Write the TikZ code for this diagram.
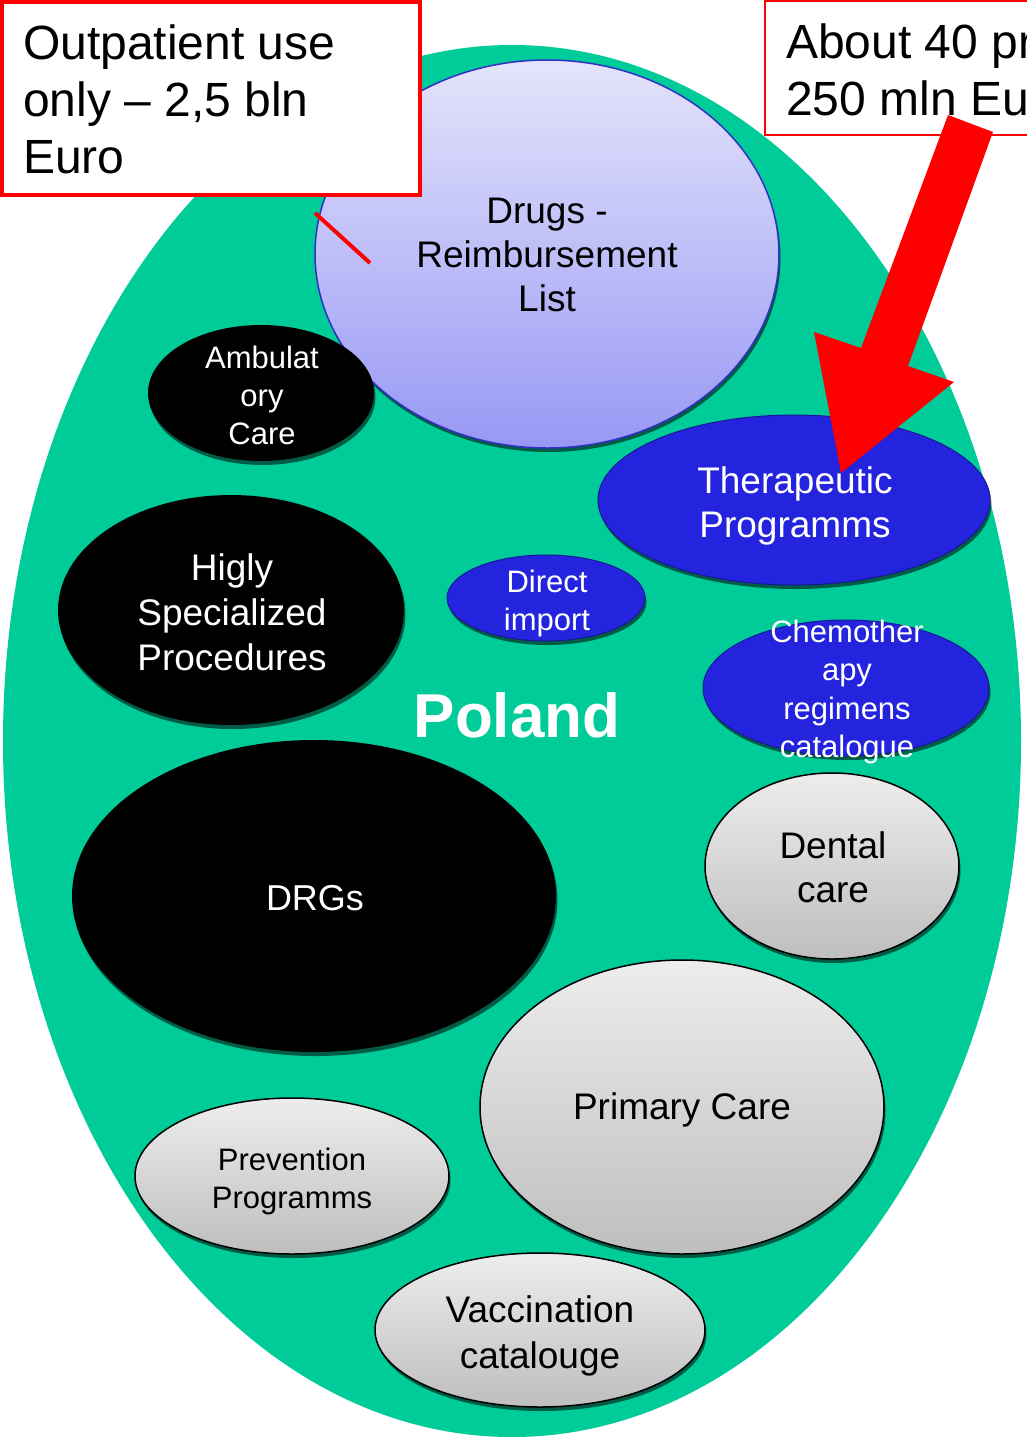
\documentclass[tikz,border=0pt]{standalone}
\usepackage{fontspec}
\setmainfont{Liberation Sans}
\usetikzlibrary{shapes.geometric,shadows}
\definecolor{polgreen}{RGB}{0,204,153}
\definecolor{lavtop}{RGB}{228,228,251}
\definecolor{lavbot}{RGB}{152,152,245}
\definecolor{lavline}{RGB}{48,48,200}
\definecolor{progblue}{RGB}{36,36,222}
\definecolor{progline}{RGB}{24,24,150}
\definecolor{graytop}{RGB}{237,237,237}
\definecolor{graybot}{RGB}{190,190,190}
\definecolor{boxred}{RGB}{255,0,0}
\tikzset{
  ell/.style={ellipse, inner sep=0pt, outer sep=0pt},
  shad/.style={drop shadow={shadow xshift=1.5pt, shadow yshift=-4pt, opacity=0.55, fill=black}},
  blackell/.style={ell, fill=black, shad},
  blueell/.style={ell, fill=progblue, draw=progline, line width=1pt, shad},
  grayell/.style={ell, top color=graytop, bottom color=graybot, draw=black, line width=1.5pt, shad},
  drugell/.style={ell, top color=lavtop, bottom color=lavbot, draw=lavline, line width=1.5pt, shad},
  wtxt/.style={text=white, align=center, inner sep=0pt},
  btxt/.style={text=black, align=center, inner sep=0pt},
  redbox/.style={draw=boxred, fill=white},
}
\newcommand{\fs}[2]{\fontsize{#1}{#2}\selectfont}
\begin{document}
\begin{tikzpicture}[x=1pt,y=-1pt]
\useasboundingbox (0,0) rectangle (1027,1440);
\clip (0,0) rectangle (1027,1440);
\fill[white] (0,0) rectangle (1027,1440);
% country
\node[ell, fill=polgreen, minimum width=1018pt, minimum height=1392pt] (poland) at (512,741) {};
% Drugs
\node[drugell, minimum width=464pt, minimum height=388pt] (drugs) at (547,254) {};
\node[btxt, font=\fs{37}{44}] (drugsT) at (547,255) {Drugs -\\Reimbursement\\List};
% Ambulatory
\node[blackell, minimum width=226pt, minimum height=136pt] (amb) at (261,393) {};
\node[wtxt, font=\fs{31}{38}] (ambT) at (262,395) {Ambulat\\ory\\Care};
% Highly specialized
\node[blackell, minimum width=346pt, minimum height=230pt] (hsp) at (231,610) {};
\node[wtxt, font=\fs{37}{45}] (hspT) at (232,612) {Higly\\Specialized\\Procedures};
% Therapeutic
\node[blueell, minimum width=392pt, minimum height=170pt] (tp) at (794,500) {};
\node[wtxt, font=\fs{37}{44}] (tpT) at (795,506) {Therapeutic\\Programms};
% Direct import
\node[blueell, minimum width=198pt, minimum height=86pt] (di) at (546,598) {};
\node[wtxt, font=\fs{31}{38}] (diT) at (547,603) {Direct\\import};
% Chemotherapy
\node[blueell, minimum width=286pt, minimum height=136pt] (chemo) at (846,688) {};
\node[wtxt, font=\fs{31}{38.5}] (chemoT) at (847,692) {Chemother\\apy\\regimens\\catalogue};
% Poland label
\node[text=white, inner sep=0pt, font=\fs{62}{70}\bfseries] (polT) at (517,715) {Poland};
% DRGs
\node[blackell, minimum width=484pt, minimum height=312pt] (drg) at (314,896) {};
\node[wtxt, font=\fs{36}{44}] (drgT) at (315,898) {DRGs};
% Dental
\node[grayell, minimum width=254pt, minimum height=186pt] (dent) at (832,866) {};
\node[btxt, font=\fs{37}{44}] (dentT) at (833,867) {Dental\\care};
% Primary care
\node[grayell, minimum width=404pt, minimum height=294pt] (pc) at (682,1107) {};
\node[btxt, font=\fs{37}{44}] (pcT) at (682,1110) {Primary Care};
% Prevention
\node[grayell, minimum width=314pt, minimum height=156pt] (prev) at (292,1176) {};
\node[btxt, font=\fs{31}{38}] (prevT) at (292,1181) {Prevention\\Programms};
% Vaccination
\node[grayell, minimum width=330pt, minimum height=154pt] (vac) at (540,1330) {};
\node[btxt, font=\fs{37}{46}] (vacT) at (540,1336) {Vaccination\\catalouge};
% red box 1
\draw[redbox, line width=4pt] (2,2) rectangle (420,195);
\node[btxt, align=left, anchor=west, font=\fs{48}{57}] (box1T) at (23,99) {Outpatient use\\only – 2,5 bln\\Euro};
\coordinate (l1) at (315,213);
\coordinate (l2) at (370,263);
\draw[boxred, line width=4pt] (l1) -- (l2);
% red box 2
\draw[redbox, line width=2pt] (765,1) rectangle (1045,135);
\node[btxt, align=left, anchor=west, font=\fs{48}{57}] (box2T) at (786,70) {About 40 pr\\250 mln Eu};
% big red arrow
\fill[boxred] (948,115) -- (993,132) -- (908,366) -- (954,382) -- (841,473) -- (814,332) -- (861,348) -- cycle;
\end{tikzpicture}
\end{document}
